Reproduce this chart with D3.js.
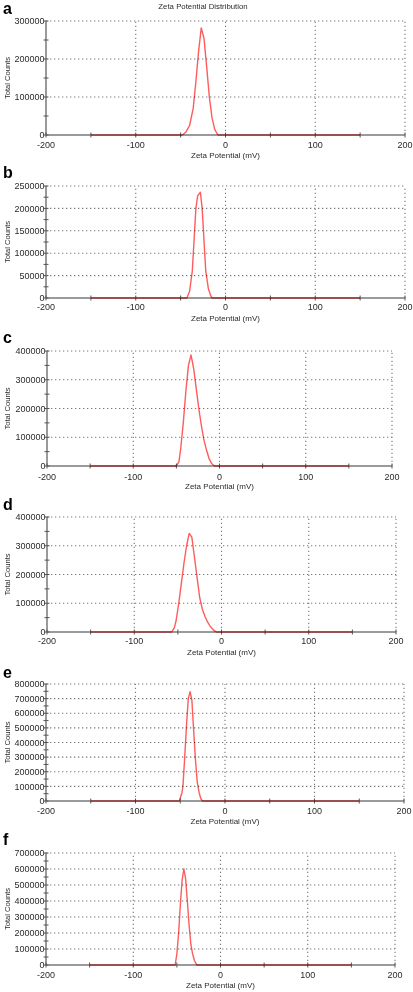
<!DOCTYPE html>
<html><head><meta charset="utf-8">
<script src="https://cdn.jsdelivr.net/npm/d3@7"></script>
<style>body{margin:0;background:#fff} svg{display:block;font-family:"Liberation Sans",Arial,sans-serif}</style>
</head><body><svg id="c" width="413" height="992"></svg>
<script>
const chartTitle = "Zeta Potential Distribution";
const xTitle = "Zeta Potential (mV)";
const yTitle = "Total Counts";
const panelLabels = ["a","b","c","d","e","f"];
const xDomain = [-200, 200];
const xTickValues = [-200,-100,0,100,200];
const xMinorTicks = [-150,-50,50,150];
const yMaxes = [300000,250000,400000,400000,800000,700000];
const ySteps = [100000,50000,100000,100000,100000,100000];

const aX = [-150,-48,-44,-40,-36,-33,-30,-27,-24,-21,-18,-15,-12,-9,-8,150];
const aY = [0,0,8000,25000,70000,140000,220000,282000,255000,180000,100000,45000,15000,2000,0,0];
const bX = [-150,-43,-40,-37,-35,-33,-31,-28,-26,-24,-22,-19,-16,-15,150];
const bY = [0,0,15000,60000,130000,200000,228000,236000,200000,130000,60000,20000,3000,0,0];
const cX = [-150,-50,-47,-45,-42,-39,-36,-33,-30,-27,-24,-21,-18,-15,-12,-9,-6,-5,150];
const cY = [0,0,15000,60000,150000,260000,350000,386000,340000,270000,200000,140000,90000,55000,25000,8000,1000,0,0];
const dX = [-150,-57,-54,-52,-49,-46,-43,-40,-37,-34,-31,-28,-25,-22,-19,-16,-13,-10,-7,-6,150];
const dY = [0,0,15000,40000,100000,170000,240000,300000,343000,330000,260000,190000,120000,80000,55000,35000,20000,9000,2000,0,0];
const eX = [-150,-51,-48,-47,-45,-43,-41,-39,-37,-35,-33,-31,-29,-27,-25,150];
const eY = [0,0,60000,100000,300000,520000,700000,747000,690000,480000,280000,130000,60000,15000,0,0];
const fX = [-150,-52,-50,-48,-46,-44,-42,-40,-38,-36,-34,-32,-30,-28,-27,150];
const fY = [0,0,70000,200000,380000,530000,600000,540000,400000,250000,130000,70000,30000,8000,0,0];
const seriesX = [aX,bX,cX,dX,eX,fX];
const seriesY = [aY,bY,cY,dY,eY,fY];

const layout = [
 {l:46,r:405,t:21,b:135,letterY:14,tickDy:10},
 {l:46,r:405,t:186,b:298,letterY:178,tickDy:9},
 {l:47,r:392,t:351,b:466,letterY:343,tickDy:10.5},
 {l:47,r:396,t:517,b:632,letterY:510,tickDy:9},
 {l:46,r:404,t:684,b:801,letterY:678,tickDy:9.5},
 {l:46,r:395,t:853,b:965,letterY:845,tickDy:9.5}
];

const svg = d3.select("#c");
const textCol = "#2a2a2a";

svg.append("text").attr("x",203).attr("y",8.5).attr("text-anchor","middle")
  .attr("font-size",7.8).attr("fill",textCol).text(chartTitle);

panelLabels.forEach((lab,i)=>{
  const L = layout[i];
  const x = d3.scaleLinear().domain(xDomain).range([L.l,L.r]);
  const y = d3.scaleLinear().domain([0,yMaxes[i]]).range([L.b,L.t]);
  const yTicks = d3.range(0, yMaxes[i]+1, ySteps[i]);
  const yMinor = d3.range(ySteps[i]/2, yMaxes[i], ySteps[i]);
  const g = svg.append("g");

  g.append("text").attr("x",3).attr("y",L.letterY).attr("font-size",16).attr("font-weight","bold")
    .attr("fill","#000").text(lab);

  // grid
  const grid = g.append("g").attr("stroke","#777").attr("stroke-width",1.1).attr("stroke-dasharray","1.3,2.7");
  grid.selectAll("line.gx").data(xTickValues.filter(v=>v>xDomain[0])).join("line")
    .attr("x1",d=>x(d)).attr("x2",d=>x(d)).attr("y1",L.b).attr("y2",L.t);
  grid.selectAll("line.gy").data(yTicks.filter(v=>v>0)).join("line").attr("class","gy")
    .attr("x1",L.l).attr("x2",L.r).attr("y1",d=>y(d)).attr("y2",d=>y(d));

  // axes lines
  g.append("line").attr("x1",L.l).attr("x2",L.r).attr("y1",L.b).attr("y2",L.b).attr("stroke","#9a9a9a").attr("stroke-width",2);
  g.append("line").attr("x1",L.l).attr("x2",L.l).attr("y1",L.b).attr("y2",L.t).attr("stroke","#9a9a9a").attr("stroke-width",2);

  // tick marks
  const tk = g.append("g").attr("stroke","#555").attr("stroke-width",1);
  tk.selectAll("line.xt").data(xTickValues.concat(xMinorTicks)).join("line")
    .attr("x1",d=>x(d)).attr("x2",d=>x(d)).attr("y1",L.b-2.5).attr("y2",L.b+2.5);
  tk.selectAll("line.yt").data(yTicks.concat(yMinor)).join("line").attr("class","yt")
    .attr("x1",L.l-2.5).attr("x2",L.l+2.5).attr("y1",d=>y(d)).attr("y2",d=>y(d));

  // tick labels
  g.selectAll("text.xl").data(xTickValues).join("text").attr("class","xl")
    .attr("x",d=>x(d)).attr("y",L.b+L.tickDy).attr("dy","0.35em").attr("text-anchor","middle")
    .attr("font-size",9).attr("fill",textCol).text(d=>d);
  g.selectAll("text.yl").data(yTicks).join("text").attr("class","yl")
    .attr("x",L.l-1.5).attr("y",d=>y(d)).attr("dy","0.35em").attr("text-anchor","end")
    .attr("font-size",9).attr("fill",textCol).text(d=>d);

  // titles
  g.append("text").attr("x",(L.l+L.r)/2).attr("y",L.b+20).attr("dy","0.35em").attr("text-anchor","middle")
    .attr("font-size",8).attr("fill",textCol).text(xTitle);
  g.append("text").attr("transform",`translate(7,${(L.t+L.b)/2}) rotate(-90)`).attr("dy","0.35em")
    .attr("text-anchor","middle").attr("font-size",7.6).attr("fill",textCol).text(yTitle);

  // series
  const pts = seriesX[i].map((v,k)=>[v, seriesY[i][k]]);
  g.append("path").datum(pts)
    .attr("d", d3.line().x(d=>x(d[0])).y(d=>y(d[1])))
    .attr("fill","none").attr("stroke","#ff5c5c").attr("stroke-width",1.4)
    .attr("stroke-linejoin","round").style("mix-blend-mode","multiply");
});
</script></body></html>
